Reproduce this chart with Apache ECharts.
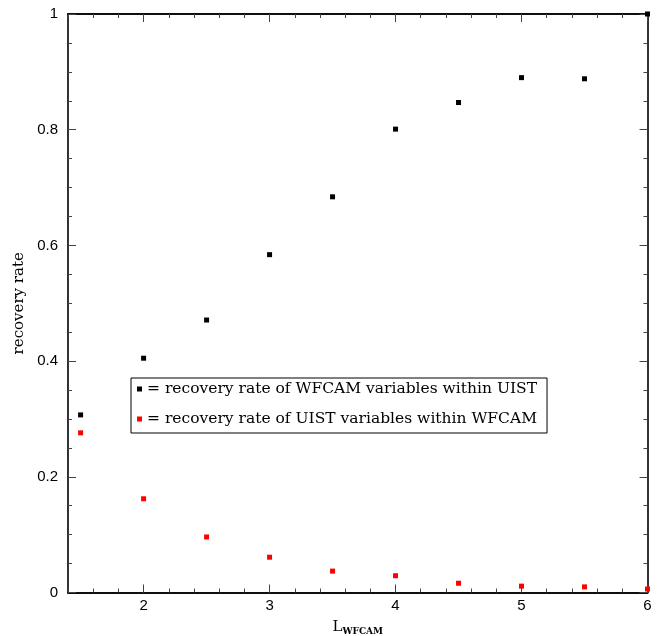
<!DOCTYPE html>
<html>
<head>
<meta charset="utf-8">
<script src="https://cdn.jsdelivr.net/npm/echarts@6/dist/echarts.min.js"></script>
<style>html,body{margin:0;padding:0;background:#fff}#c{width:665px;height:636px}</style>
</head>
<body>
<div id="c"></div>
<script>
const lValues = [1.5, 2, 2.5, 3, 3.5, 4, 4.5, 5, 5.5, 6];
const wfcamInUist = [0.307, 0.405, 0.471, 0.584, 0.684, 0.801, 0.847, 0.890, 0.888, 1.0];
const uistInWfcam = [0.276, 0.162, 0.096, 0.061, 0.037, 0.029, 0.016, 0.011, 0.0097, 0.006];
const xMajorTicks = [2, 3, 4, 5, 6];
const seriesNames = ['= recovery rate of WFCAM variables within UIST', '= recovery rate of UIST variables within WFCAM'];

const chart = echarts.init(document.getElementById('c'), null, {renderer: 'canvas'});
const sans = 'Liberation Sans';
const serif = 'DejaVu Serif';
const lineStyle = {color: '#000', width: 1.6};
const tickStyle = {color: '#444', width: 1};

function xAxisDef(pos, major, showLabel) {
  const a = {
    type: 'value', position: pos, min: 1.4, max: 6, interval: 0.2,
    axisLine: {show: true, onZero: false, lineStyle: lineStyle},
    splitLine: {show: false},
    axisLabel: {show: false},
    axisTick: {show: true, inside: true, length: major ? 8 : 4, lineStyle: tickStyle}
  };
  if (major) {
    a.axisTick.customValues = xMajorTicks;
    a.axisLabel = showLabel ? {show: true, customValues: xMajorTicks, color: '#000', fontFamily: sans, fontSize: 15, margin: 6, formatter: v => String(Math.round(v))} : {show: false};
  }
  return a;
}
function yAxisDef(pos, showLabel) {
  return {
    type: 'value', position: pos, min: 0, max: 1, interval: 0.2,
    axisLine: {show: true, onZero: false, lineStyle: lineStyle},
    splitLine: {show: false},
    axisTick: {show: true, inside: true, length: 8, lineStyle: tickStyle},
    minorTick: {show: true, splitNumber: 4, length: 4, lineStyle: tickStyle},
    axisLabel: showLabel ? {show: true, color: '#000', fontFamily: sans, fontSize: 15, margin: 10,
      formatter: v => (Math.abs(v) < 1e-9 ? '0' : (Math.abs(v - 1) < 1e-9 ? '1' : v.toFixed(1)))} : {show: false}
  };
}

const opt = {
  animation: false,
  backgroundColor: '#fff',
  grid: {left: 68, top: 14, right: 17.5, bottom: 43.5, containLabel: false, outerBoundsMode: 'none'},
  xAxis: [
    Object.assign(xAxisDef('bottom', true, true), {
      name: 'L{sub|WFCAM}', nameLocation: 'middle', nameGap: 26,
      nameTextStyle: {color: '#000', fontFamily: serif, fontSize: 15,
        rich: {sub: {fontFamily: serif, fontSize: 9, fontWeight: 'bold', verticalAlign: 'bottom', padding: [9, 0, 0, 0], color: '#000'}}}
    }),
    xAxisDef('bottom', false, false),
    xAxisDef('top', true, false),
    xAxisDef('top', false, false)
  ],
  yAxis: [
    Object.assign(yAxisDef('left', true), {
      name: 'recovery rate', nameLocation: 'middle', nameGap: 40, nameRotate: 90,
      nameTextStyle: {color: '#000', fontFamily: serif, fontSize: 15}
    }),
    yAxisDef('right', false)
  ],
  legend: {
    show: true, orient: 'vertical', left: 131, top: 378,
    data: seriesNames,
    icon: 'rect', itemWidth: 5, itemHeight: 5, itemGap: 14,
    borderColor: '#000', borderWidth: 1, padding: [3, 10, 6, 6],
    textStyle: {color: '#000', fontFamily: serif, fontSize: 15.5}
  },
  series: [
    {name: seriesNames[0], type: 'scatter', xAxisIndex: 0, yAxisIndex: 0, symbol: 'rect', symbolSize: 5,
      itemStyle: {color: '#000', opacity: 1}, data: lValues.map((x, i) => [x, wfcamInUist[i]]), clip: false},
    {name: seriesNames[1], type: 'scatter', xAxisIndex: 0, yAxisIndex: 0, symbol: 'rect', symbolSize: 5,
      itemStyle: {color: '#ff0000', opacity: 1}, data: lValues.map((x, i) => [x, uistInWfcam[i]]), clip: false}
  ]
};
chart.setOption(opt);
</script>
</body>
</html>
